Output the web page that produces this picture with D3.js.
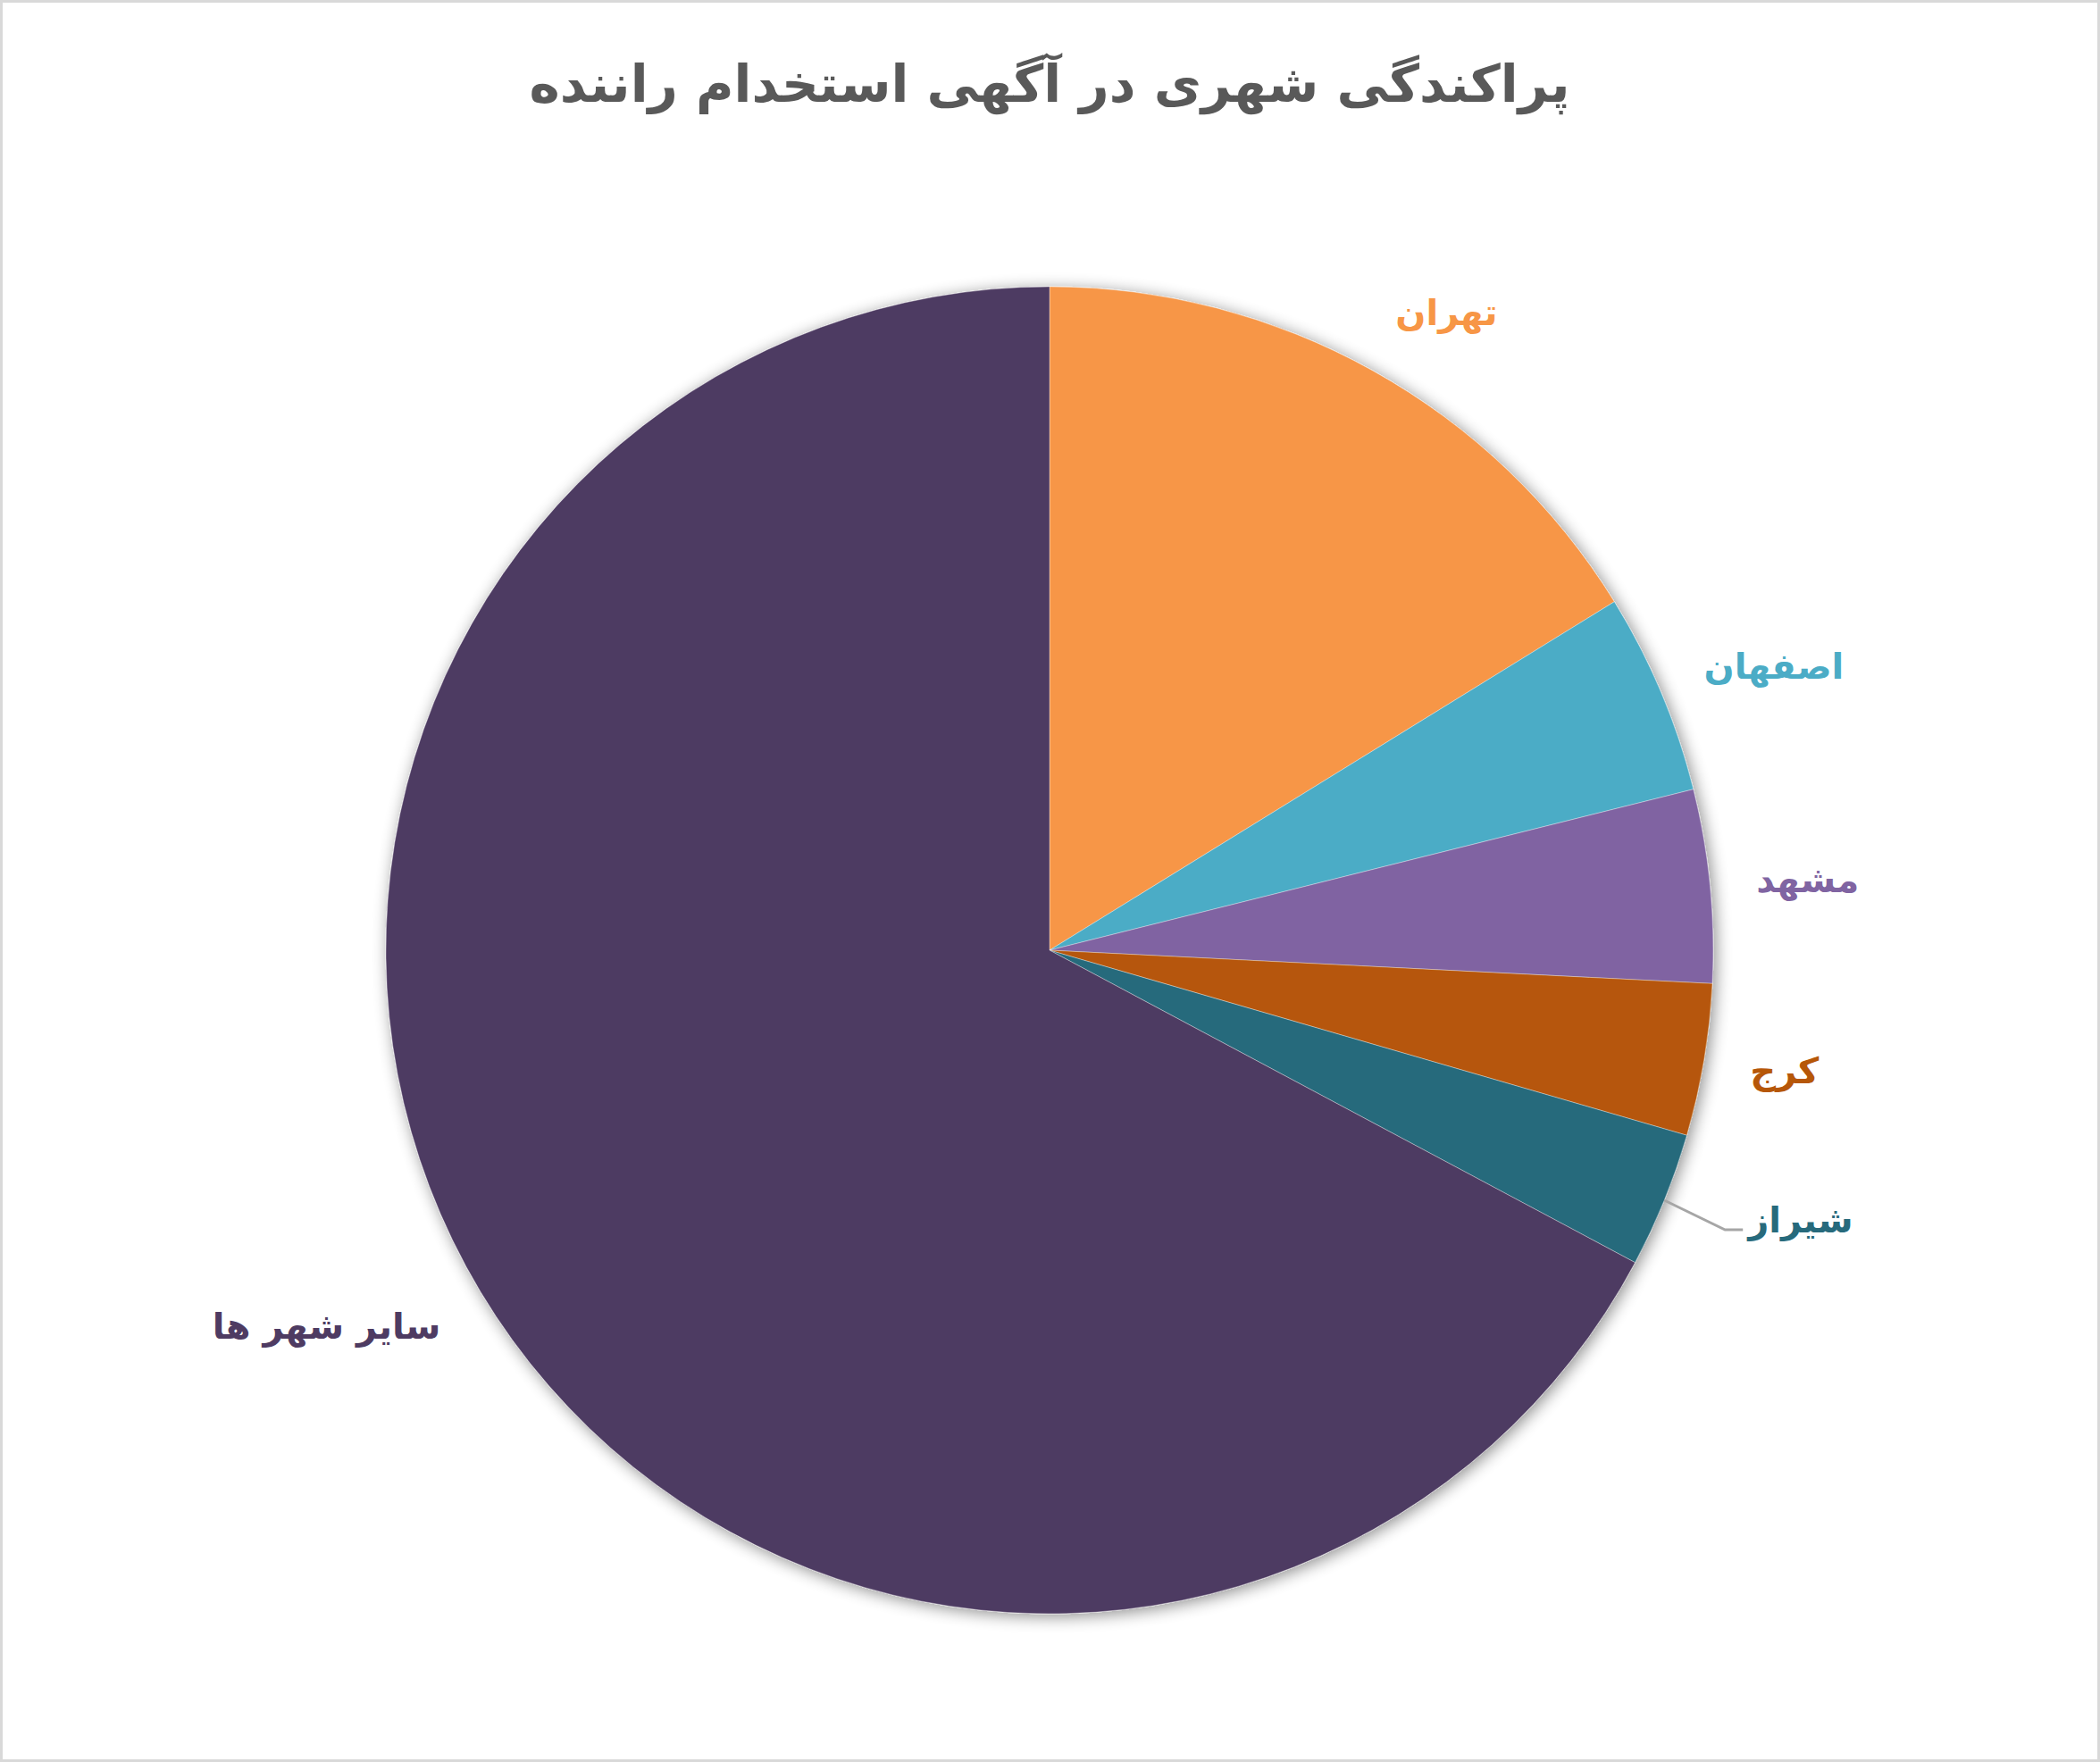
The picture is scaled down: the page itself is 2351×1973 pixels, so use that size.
<!DOCTYPE html>
<html>
<head>
<meta charset="utf-8">
<script src="https://cdn.jsdelivr.net/npm/d3@7"></script>
<style>
  html, body { margin: 0; padding: 0; background: #fff; }
  svg { display: block; }
</style>
</head>
<body>
<div id="chart"></div>
<script>
// data (share of ads, %)
const cities = ['تهران', 'اصفهان', 'مشهد', 'کرج', 'شیراز', 'سایر شهر ها']
const shares = [16.2, 4.9, 4.7, 3.7, 3.3, 67.2]
const colors = ['#F79646', '#4BACC6', '#8064A2', '#B65708', '#276A7C', '#4E3B62']
const title = 'پراکندگی شهری در آگهی استخدام راننده'

let w = 2351,
    h = 1973,
    cx = 1175,
    cy = 1064,
    r = 743,
    gap = 52,
    lblH = 45

let svg = d3.select('#chart').append('svg').attr('width', w).attr('height', h)

svg.append('rect')
  .attr('x', 1.5).attr('y', 1.5)
  .attr('width', w - 3).attr('height', h - 3)
  .attr('fill', '#fff').attr('stroke', '#d9d9d9').attr('stroke-width', 3)

let defs = svg.append('defs')
let f = defs.append('filter').attr('id', 'shadow')
  .attr('x', '-10%').attr('y', '-10%').attr('width', '120%').attr('height', '120%')
f.append('feGaussianBlur').attr('in', 'SourceAlpha').attr('stdDeviation', 9).attr('result', 'b')
f.append('feOffset').attr('in', 'b').attr('dx', 3).attr('dy', 3).attr('result', 'o')
f.append('feComponentTransfer').attr('in', 'o').attr('result', 's')
  .append('feFuncA').attr('type', 'linear').attr('slope', 0.45)
let m = f.append('feMerge')
m.append('feMergeNode').attr('in', 's')
m.append('feMergeNode').attr('in', 'SourceGraphic')

svg.append('text')
  .attr('x', cx).attr('y', 114)
  .attr('text-anchor', 'middle')
  .attr('font-family', 'DejaVu Sans')
  .attr('font-weight', 'bold')
  .attr('font-size', 58)
  .attr('fill', '#595959')
  .attr('direction', 'rtl')
  .text(title)

let pie = d3.pie().sort(null).value(d => d)
let arcs = pie(shares)
let arc = d3.arc().innerRadius(0).outerRadius(r)

let g = svg.append('g').attr('transform', `translate(${cx},${cy})`)

g.append('g').attr('filter', 'url(#shadow)')
  .selectAll('path').data(arcs).enter().append('path')
  .attr('d', arc)
  .attr('fill', (d, i) => colors[i])
  .attr('stroke', 'rgba(255,255,255,0.35)')
  .attr('stroke-width', 1)

// labels outside: anchor point just past the rim at mid angle, box slid off it
let labels = g.selectAll('text.lbl').data(arcs).enter().append('text')
  .attr('class', 'lbl')
  .attr('font-family', 'DejaVu Sans')
  .attr('font-weight', 'bold')
  .attr('font-size', 40)
  .attr('fill', (d, i) => colors[i])
  .attr('text-anchor', 'middle')
  .attr('dominant-baseline', 'central')
  .text((d, i) => cities[i])

labels.each(function(d, i){
  let a = (d.startAngle + d.endAngle) / 2
  let ux = Math.sin(a), uy = -Math.cos(a)
  let bw = this.getBBox().width
  let px = ux * (r + gap), py = uy * (r + gap)
  let x = px + Math.sign(ux) * bw / 2,
      y = py + uy * lblH / 2
  if(i === 4){
    // shiraz is pulled out with a leader line
    let x0 = ux * r, y0 = uy * r
    let lx = x0 + 68, ly = y0 + 33
    x = lx + 25 + bw / 2
    y = ly - 11
    g.append('polyline')
      .attr('points', [[x0, y0], [lx, ly], [lx + 20, ly]].map(p => p.join(',')).join(' '))
      .attr('fill', 'none').attr('stroke', '#a6a6a6').attr('stroke-width', 3)
  }
  d3.select(this).attr('x', x).attr('y', y)
})
</script>
</body>
</html>
